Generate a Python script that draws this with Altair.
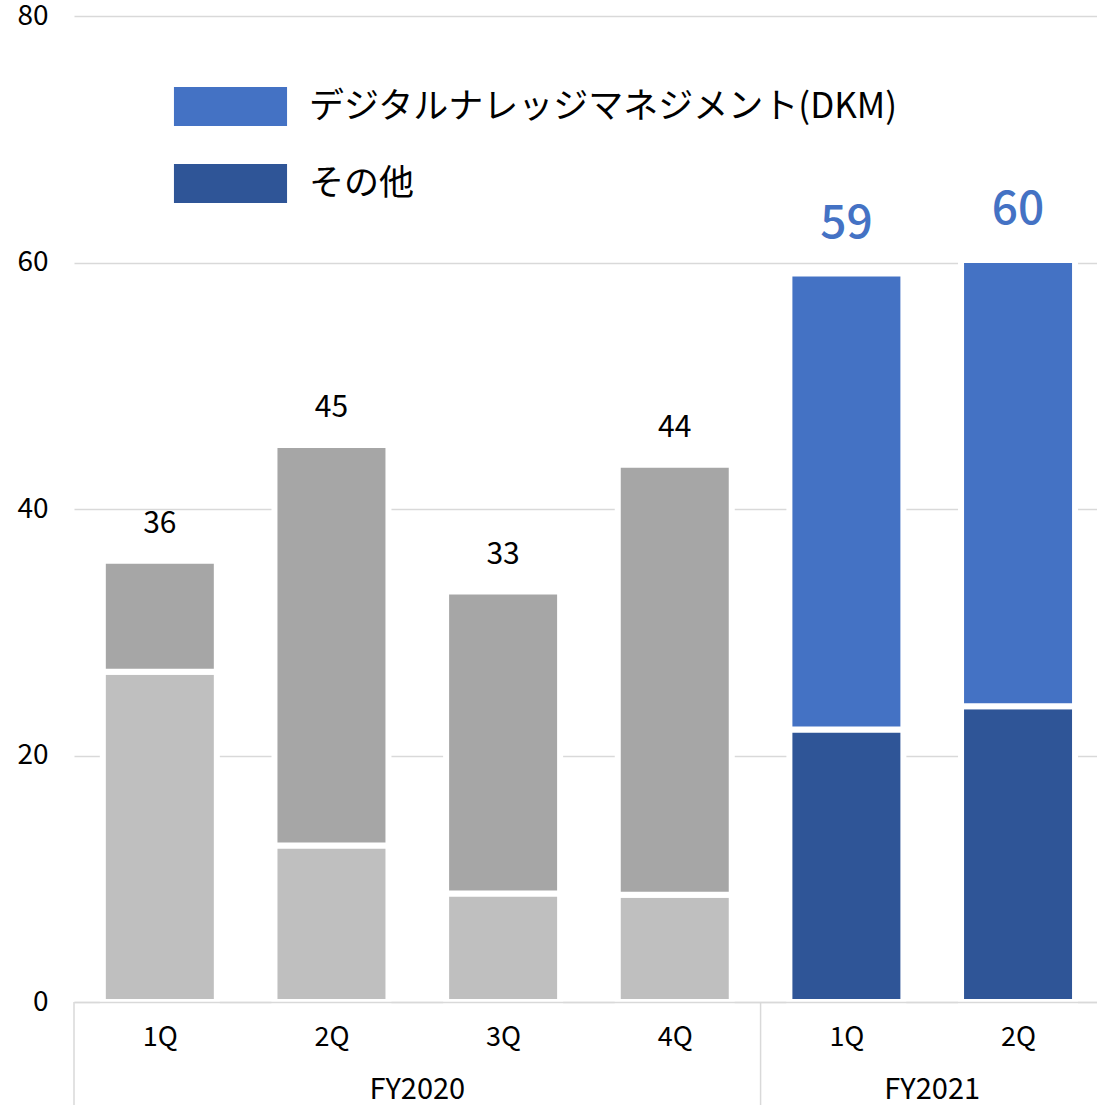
import json
import altair as alt
import pandas as pd

# ---- data ----
years = ["FY2020", "FY2020", "FY2020", "FY2020", "FY2021", "FY2021"]
quarters = ["1Q", "2Q", "3Q", "4Q", "1Q", "2Q"]
other_vals = [26.8, 12.7, 8.8, 8.7, 22.1, 24.0]
dkm_vals = [9.0, 32.5, 24.5, 34.9, 37.0, 36.2]
series_names = ["デジタルナレッジマネジメント(DKM)", "その他"]
gray_names = ["DKM (FY2020)", "その他 (FY2020)"]
fy_groups = ["FY2020", "FY2021"]
y_ticks = [0, 20, 40, 60, 80]

FONT = "Noto Sans CJK JP"

rows = []
for i, (yr, q, o, d) in enumerate(zip(years, quarters, other_vals, dkm_vals)):
    colored = yr == "FY2021"
    rows.append({"idx": i, "value": o, "order": 0,
                 "key": series_names[1] if colored else gray_names[1]})
    rows.append({"idx": i, "value": d, "order": 1,
                 "key": series_names[0] if colored else gray_names[0]})
bars_df = pd.DataFrame(rows)

tot_df = pd.DataFrame({
    "idx": list(range(len(quarters))),
    "total": [o + d for o, d in zip(other_vals, dkm_vals)],
    "year": years,
})

# group centers and boundaries
fy_rows, sep_rows = [], []
for g in fy_groups:
    ids = [i for i, y in enumerate(years) if y == g]
    fy_rows.append({"fy": g, "center": (ids[0] + ids[-1]) / 2})
    sep_rows.append({"pos": ids[0] - 0.5})
fy_df = pd.DataFrame(fy_rows)
sep_df = pd.DataFrame(sep_rows)

W, H = 1023, 986
xscale = alt.Scale(domain=[-0.5, 5.46], nice=False, zero=False, padding=0)
yscale = alt.Scale(domain=[0, 80], nice=False, padding=0)

label_expr = json.dumps(quarters, ensure_ascii=False) + "[datum.value]"

bars = alt.Chart(bars_df).mark_bar(size=114, stroke="white", strokeWidth=6).encode(
    x=alt.X("idx:Q", scale=xscale,
            axis=alt.Axis(values=list(range(len(quarters))), labelExpr=label_expr,
                          title=None, grid=False, ticks=False, domainColor="#d9d9d9",
                          domainWidth=1.5, labelFontSize=27, labelFont=FONT,
                          labelColor="black", labelPadding=22, zindex=1)),
    y=alt.Y("value:Q", stack="zero", scale=yscale,
            axis=alt.Axis(values=y_ticks, title=None, domain=False, ticks=False,
                          gridColor="#d9d9d9", gridWidth=1.5, labelFontSize=28,
                          labelFont=FONT, labelColor="black", labelPadding=26)),
    color=alt.Color("key:N",
                    scale=alt.Scale(domain=series_names + gray_names,
                                    range=["#4472C4", "#2F5597", "#A6A6A6", "#BFBFBF"]),
                    legend=alt.Legend(values=series_names, title=None, orient="none",
                                      legendX=137, legendY=71, padding=0,
                                      symbolType="M-2.9,-1H2.9V1H-2.9Z", symbolSize=1521,
                                      symbolStrokeWidth=0, symbolOpacity=1,
                                      labelFontSize=35, labelFont=FONT, labelColor="black",
                                      labelOffset=59, rowPadding=38, labelLimit=900)),
    order=alt.Order("order:Q"),
)

lab_black = alt.Chart(tot_df).transform_filter("datum.year == 'FY2020'").mark_text(
    fontSize=30, font=FONT, color="black", baseline="alphabetic", dy=-28
).encode(x=alt.X("idx:Q", scale=xscale), y=alt.Y("total:Q", scale=yscale),
         text=alt.Text("total:Q", format=".0f"))

lab_blue = alt.Chart(tot_df).transform_filter("datum.year == 'FY2021'").mark_text(
    fontSize=46, font=FONT, color="#4472C4", fontWeight=500, baseline="alphabetic", dy=-36
).encode(x=alt.X("idx:Q", scale=xscale), y=alt.Y("total:Q", scale=yscale),
         text=alt.Text("total:Q", format=".0f"))

fy_text = alt.Chart(fy_df).mark_text(fontSize=29, font=FONT, color="black",
                                     baseline="middle").encode(
    x=alt.X("center:Q", scale=xscale), y=alt.value(H + 88), text="fy:N")

seps = alt.Chart(sep_df).mark_rule(color="#d9d9d9", strokeWidth=1.5).encode(
    x=alt.X("pos:Q", scale=xscale), y=alt.value(H), y2=alt.value(H + 103))

chart = alt.layer(bars, lab_black, lab_blue, fy_text, seps).properties(
    width=W, height=H,
    background="white",
    autosize=alt.AutoSizeParams(type="none"),
    padding={"left": 74, "top": 16, "right": 0, "bottom": 103},
).configure_view(stroke=None)

chart.save("out.html", embed_options={"renderer": "svg", "actions": False})
